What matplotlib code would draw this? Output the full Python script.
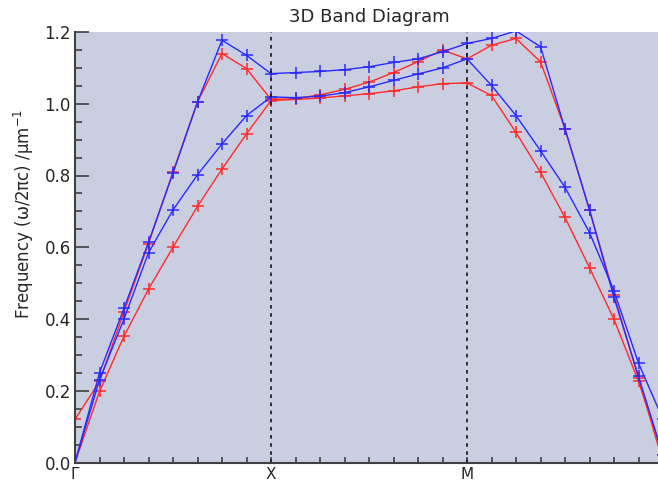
import numpy as np
import matplotlib
matplotlib.use('Agg')
import matplotlib.pyplot as plt
from matplotlib.ticker import MultipleLocator, FormatStrFormatter

# k-path: 8 steps per segment, G -> X -> M -> G (last G is past the cut-off edge)
k_index = np.arange(25)
k_labels = ['\u0393', 'X', 'M']
k_label_pos = [0, 8, 16]

# bands (frequency in units of 2*pi*c / um)
red_upper = [0.12, 0.226, 0.42, 0.61, 0.81, 1.005, 1.14, 1.098, 1.012,
             1.014, 1.025, 1.04, 1.06, 1.087, 1.117, 1.15, 1.125,
             1.163, 1.182, 1.117, 0.93, 0.704, 0.468, 0.235, 0.0]
red_lower = [0.0, 0.198, 0.352, 0.483, 0.60, 0.714, 0.818, 0.916, 1.009,
             1.012, 1.016, 1.022, 1.028, 1.036, 1.047, 1.056, 1.058,
             1.023, 0.92, 0.809, 0.683, 0.543, 0.399, 0.226, 0.02]
blue_upper = [0.0, 0.25, 0.43, 0.614, 0.807, 1.005, 1.177, 1.135, 1.084,
              1.087, 1.09, 1.095, 1.103, 1.115, 1.125, 1.145, 1.168,
              1.182, 1.203, 1.159, 0.93, 0.704, 0.46, 0.24, 0.02]
blue_lower = [0.0, 0.23, 0.40, 0.585, 0.704, 0.802, 0.888, 0.967, 1.019,
              1.017, 1.021, 1.031, 1.047, 1.065, 1.083, 1.10, 1.125,
              1.051, 0.967, 0.869, 0.767, 0.641, 0.478, 0.277, 0.12]

red = '#ff2a2a'
blue = '#2a2aff'
axis_col = '#404040'
text_col = '#262626'

fig = plt.figure(figsize=(6.58, 4.82), dpi=100)
# right edge of the frame is cut off in the reference
ax = fig.add_axes([75/658, 19.5/482, 588/658, 430.5/482])
ax.set_facecolor('#c9cfe1')

for band in (red_upper, red_lower):
    ax.plot(k_index, band, color=red, lw=1.0, marker='+', ms=9, mew=1.1)
for band in (blue_upper, blue_lower):
    ax.plot(k_index, band, color=blue, lw=1.0, marker='+', ms=9, mew=1.1)

for pos in k_label_pos[1:]:
    ax.axvline(pos, color='#222222', ls=(0, (2, 2.5)), lw=1.3)

ax.set_xlim(0, 24)
ax.set_ylim(0, 1.2)
ax.set_xticks(k_label_pos)
ax.set_xticklabels(k_labels)
ax.xaxis.set_minor_locator(MultipleLocator(1))
ax.yaxis.set_major_locator(MultipleLocator(0.2))
ax.yaxis.set_minor_locator(MultipleLocator(0.05))
ax.yaxis.set_major_formatter(FormatStrFormatter('%.1f'))

ax.tick_params(axis='x', which='both', direction='in', length=4.5, width=1.2,
               color=axis_col, labelsize=11, labelcolor=text_col, pad=3)
ax.tick_params(axis='y', which='major', direction='in', length=10, width=1.2,
               color=axis_col, labelsize=12, labelcolor=text_col, pad=3)
ax.tick_params(axis='y', which='minor', direction='in', length=5, width=1.2,
               color=axis_col)

for side in ('top', 'right'):
    ax.spines[side].set_visible(False)
for side in ('left', 'bottom'):
    ax.spines[side].set_color(axis_col)
    ax.spines[side].set_linewidth(1.5)

fig.text(369/658, 1 - 17/482, '3D Band Diagram', fontsize=13,
         color=text_col, ha='center', va='center')
fig.text(24/658, 1 - 214/482, 'Frequency (\u03c9/2\u03c0c) /\u03bcm$^{-1}$',
         fontsize=12, color=text_col, rotation=90, ha='center', va='center')

fig.savefig('out.png', dpi=100)
